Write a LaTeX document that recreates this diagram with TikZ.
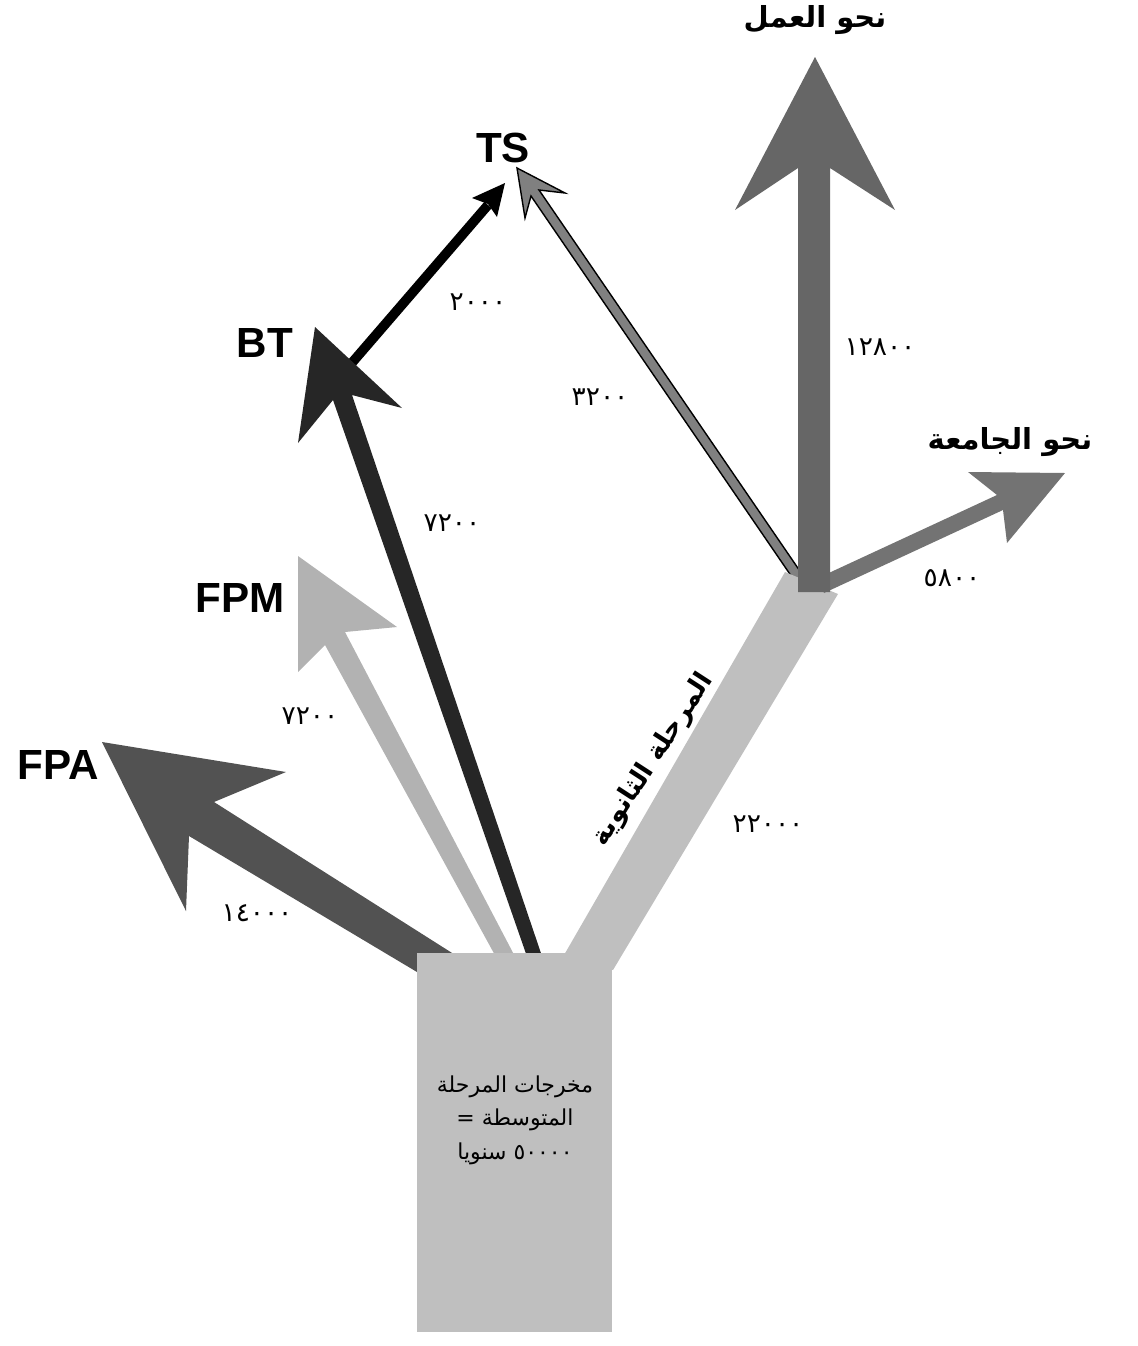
\documentclass[tikz,border=0pt]{standalone}
\usepackage{fontspec}
\setmainfont{Liberation Sans}
\newfontfamily\arabicfont[Script=Arabic]{DejaVu Sans}
\TeXXeTstate=1
\usetikzlibrary{positioning}

\begin{document}
\begin{tikzpicture}[x=0.02cm, y=-0.02cm,
  lbl/.style={font=\fontsize{24}{28}\selectfont\bfseries, inner sep=0pt},
  arlbl/.style={font=\arabicfont\fontsize{16.5}{20}\selectfont\bfseries, inner sep=0pt},
  num/.style={font=\arabicfont\fontsize{15}{18}\selectfont, inner sep=0pt}]
\useasboundingbox (0,0) rectangle (1137,1346);
% branch to TS from the split point (goes under the band)
\filldraw[fill=black!50, draw=black, line width=0.8pt]
  (796,583) -- (531,196) -- (525,218) -- (517,168) -- (565,193) -- (539,190) -- (804,577) -- cycle;
% secondary band
\fill[black!25] (560,962) -- (785,572) -- (838,594) -- (613,970) -- cycle;
% towards university
\fill[black!55] (818,578) -- (997,495) -- (968,472) -- (1065,473) -- (1007,543) -- (1003,510) -- (824,593) -- cycle;
% towards work
\fill[black!60] (798,592) -- (798,168) -- (735,210) -- (815,57) -- (895,210) -- (830,168) -- (830,592) -- cycle;
% BT to TS
\draw[line width=5.5pt] (344,372) -- (488,205);
\fill (505,183) -- (472,198) -- (488,204) -- (497,217) -- cycle;
% BT, FPM, FPA
\fill[black!85] (531,968) -- (333,400) -- (298,443) -- (315,327) -- (402,408) -- (352,395) -- (546,968) -- cycle;
\fill[black!30] (502,968) -- (325,645) -- (298,672) -- (298,556) -- (397,627) -- (345,632) -- (521,968) -- cycle;
\fill[black!68] (417,972) -- (189,836) -- (186,911) -- (102,742) -- (286,772) -- (214,802) -- (460,958) -- cycle;
% source box
\node[fill=black!25, inner sep=0pt, minimum width=3.9cm, minimum height=7.58cm] (src) at (514.5,1142.5) {};
\node[font=\arabicfont\fontsize{12.5}{19}\selectfont, align=center] (srctxt) at (515,1120)
  {\beginR مخرجات المرحلة\endR\\ \beginR المتوسطة =\endR\\ \beginR\beginL ٥٠٠٠٠\endL{} سنويا\endR};
% labels
\node[lbl] (ts) at (503,148) {TS};
\node[lbl] (bt) at (265,343) {BT};
\node[lbl] (fpm) at (240,598) {FPM};
\node[lbl] (fpa) at (58,765) {FPA};
\node[arlbl] (work) at (815,20) {\beginR نحو العمل\endR};
\node[arlbl] (univ) at (1010,442) {\beginR نحو الجامعة\endR};
\node[font=\arabicfont\fontsize{15}{18}\selectfont\bfseries, rotate=57] (second) at (653,760) {\beginR المرحلة الثانوية\endR};
\foreach \x/\y/\t/\n in {478/302/٢٠٠٠/nts, 600/397/٣٢٠٠/nsts, 880/347/١٢٨٠٠/nwork,
    452/523/٧٢٠٠/nbt, 310/716/٧٢٠٠/nfpm, 952/578/٥٨٠٠/nuniv, 768/824/٢٢٠٠٠/nsec, 257/913/١٤٠٠٠/nfpa}
  \node[num] (\n) at (\x,\y) {\t};
\end{tikzpicture}
\end{document}
